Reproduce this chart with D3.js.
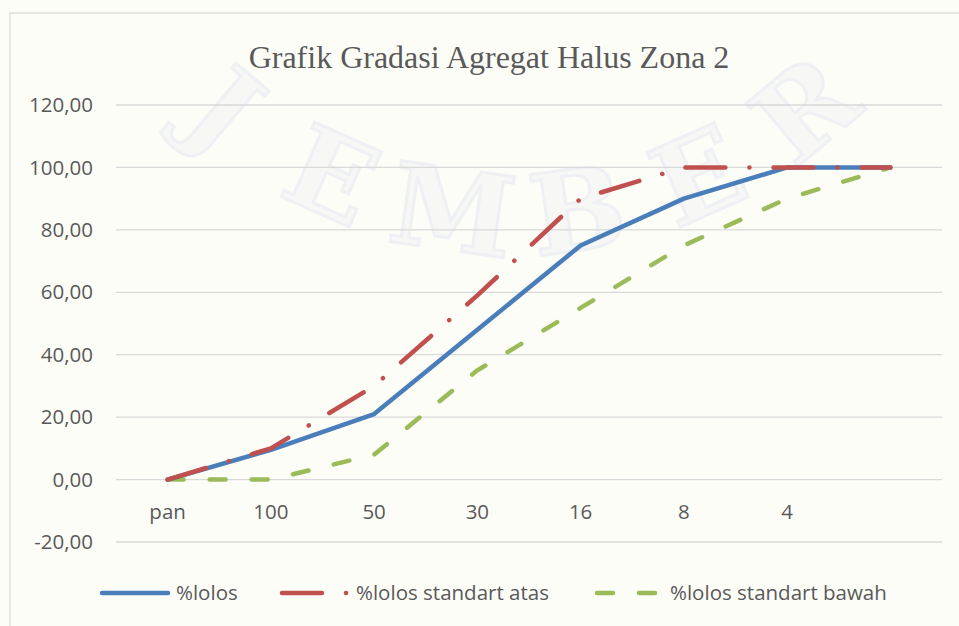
<!DOCTYPE html>
<html>
<head>
<meta charset="utf-8">
<script src="https://cdnjs.cloudflare.com/ajax/libs/d3/7.8.5/d3.min.js"></script>
<style>
  body { margin: 0; background: #fdfdf8; }
  svg { display: block; }
</style>
</head>
<body>
<div id="chart"></div>
<script>
let categories = ['pan', '100', '50', '30', '16', '8', '4', '']
let lolos = [0, 9.5, 21, 48, 75, 90, 100, 100]
let atas = [0, 10, 30, 59, 90, 100, 100, 100]
let bawah = [0, 0, 8, 35, 55, 75, 90, 100]
let yTicks = [-20, 0, 20, 40, 60, 80, 100, 120]

let width = 959
let height = 626
let margin = { top: 105, left: 116, right: 17, bottom: 84 }

let svg = d3.select('#chart')
  .append('svg')
  .attr('width', width)
  .attr('height', height)

// faint watermark letters on an arc
let wm = svg.append('g')
  .attr('fill', '#f7f7f6')
  .attr('stroke', '#eff0f3')
  .attr('stroke-width', 3)
  .attr('font-family', 'DejaVu Serif')
  .attr('font-weight', 'bold')
  .attr('font-size', 112)
let letters = ['J', 'E', 'M', 'B', 'E', 'R']
letters.forEach((l, i) => {
  let a = -40 + i * 16
  let r = 450
  let cx = 515 + r * Math.sin(a * Math.PI / 180)
  let cy = -236 + r * Math.cos(a * Math.PI / 180)
  wm.append('text').text(l)
    .attr('text-anchor', 'middle')
    .attr('dy', '0.36em')
    .attr('transform', `translate(${cx},${cy}) rotate(${-a})`)
})

// chart frame
svg.append('rect')
  .attr('x', 10).attr('y', 13)
  .attr('width', 980).attr('height', 640)
  .attr('fill', 'none')
  .attr('stroke', '#d9d9d9')
  .attr('stroke-width', 1.3)

let x = d3.scaleBand()
  .domain(d3.range(categories.length))
  .range([margin.left, width - margin.right])

let y = d3.scaleLinear()
  .domain([-20, 120])
  .range([height - margin.bottom, margin.top])

let fmt = d => d3.format('.2f')(d).replace('.', ',').replace('\u2212', '-')

svg.append('g')
  .selectAll('line')
  .data(yTicks)
  .enter()
  .append('line')
  .attr('x1', margin.left)
  .attr('x2', width - margin.right)
  .attr('y1', d => y(d))
  .attr('y2', d => y(d))
  .attr('stroke', '#d9d9d9')
  .attr('stroke-width', 1.3)

svg.append('g')
  .selectAll('text')
  .data(yTicks)
  .enter()
  .append('text')
  .attr('x', 93)
  .attr('y', d => y(d))
  .attr('dy', '0.35em')
  .attr('text-anchor', 'end')
  .attr('font-family', 'Open Sans, sans-serif')
  .attr('font-size', 20.5)
  .attr('fill', '#595959')
  .text(fmt)

svg.append('g')
  .selectAll('text')
  .data(categories)
  .enter()
  .append('text')
  .attr('x', (d, i) => x(i) + x.bandwidth() / 2)
  .attr('y', y(0) + 39)
  .attr('text-anchor', 'middle')
  .attr('font-family', 'Open Sans, sans-serif')
  .attr('font-size', 20.5)
  .attr('fill', '#595959')
  .text(d => d)

svg.append('text')
  .attr('x', 489)
  .attr('y', 68)
  .attr('text-anchor', 'middle')
  .attr('font-family', 'Liberation Serif, serif')
  .attr('font-size', 32)
  .attr('fill', '#595959')
  .text('Grafik Gradasi Agregat Halus Zona 2')

let line = d3.line()
  .x((d, i) => x(i) + x.bandwidth() / 2)
  .y(d => y(d))

let series = [
  { name: '%lolos', values: lolos, color: '#4a7ebb', dash: null },
  { name: '%lolos standart atas', values: atas, color: '#c0504d', dash: '40 24 0.1 24' },
  { name: '%lolos standart bawah', values: bawah, color: '#9bbb59', dash: '16 26' }
]

// draw standards first, then the measured line, red on top
;[series[2], series[0], series[1]].forEach(s => {
  svg.append('path')
    .datum(s.values)
    .attr('d', line)
    .attr('fill', 'none')
    .attr('stroke', s.color)
    .attr('stroke-width', 4.5)
    .attr('stroke-linecap', 'round')
    .attr('stroke-linejoin', 'round')
    .attr('stroke-dasharray', s.dash)
})

let legendX = [102, 282, 597]
let legendLen = [66, 66, 58]
let textX = [176, 356, 670]
let legend = svg.append('g')
series.forEach((s, i) => {
  let g = legend.append('g').attr('transform', 'translate(0,593)')
  g.append('line')
    .attr('x1', legendX[i]).attr('x2', legendX[i] + legendLen[i])
    .attr('stroke', s.color)
    .attr('stroke-width', 4.5)
    .attr('stroke-linecap', 'round')
    .attr('stroke-dasharray', s.dash)
  g.append('text')
    .attr('x', textX[i])
    .attr('dy', '0.35em')
    .attr('font-family', 'Open Sans, sans-serif')
    .attr('font-size', 20.5)
    .attr('fill', '#595959')
    .text(s.name)
})
</script>
</body>
</html>
